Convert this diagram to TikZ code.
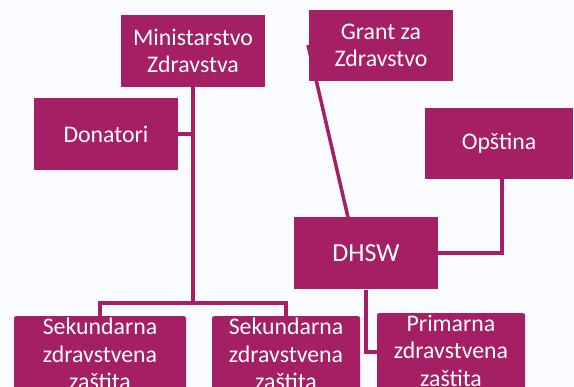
\documentclass[tikz,border=0pt]{standalone}
\usepackage{fontspec}
\setmainfont{Carlito}
\usepackage{xcolor}
\definecolor{plum}{HTML}{A41F63}
\definecolor{paper}{HTML}{FAFBFE}
\usetikzlibrary{positioning}
\tikzset{
    box/.style={
        rectangle, fill=plum, text=white,
        align=center, inner sep=0pt,
        minimum width=144pt, minimum height=72pt,
        font=\fontsize{23.8}{27.7}\selectfont
    },
    leaf/.style={
        box, rounded corners=2pt,
        anchor=north, minimum height=0pt,
        inner ysep=1.6pt
    },
    conn/.style={
        draw=plum, line width=4pt
    },
}

\begin{document}
\begin{tikzpicture}[x=1pt, y=-1pt]
    \useasboundingbox (0,0) rectangle (574,387);
    \clip (0,0) rectangle (574,387);
    \fill[paper] (0,0) rectangle (574,387);

    % Draw ministry branch
    \node[box] (min) at (193,51) {Ministarstvo\\Zdravstva};
    \node[box] (don) at (106,134) {Donatori};
    \node[leaf, minimum width=172pt] (sek1) at (100,316) {Sekundarna\\zdravstvena\\zaštita};
    \node[leaf, minimum width=148pt] (sek2) at (286,316) {Sekundarna\\zdravstvena\\zaštita};
    \coordinate (bus) at (193,303);

    \draw[conn] (min) -- (bus);
    \draw[conn] (don) -- (don -| min);
    \draw[conn] (sek1) |- (bus) -| (sek2);

    % Draw DHSW branch
    \node[box, font=\fontsize{26}{31}\selectfont] (dhsw) at (366,253.5) {DHSW};
    \node[box, minimum width=148pt, minimum height=71pt] (ops) at (499,143.5) {Opština};
    \node[leaf, minimum width=148pt] (prim) at (451,313) {Primarna\\zdravstvena\\zaštita};
    \coordinate (granttip) at (308,45);
    \coordinate (primin) at (377,352);

    \draw[conn, line width=3.5pt] ([xshift=-18pt]dhsw.north) -- (granttip);
    \node[box, minimum height=71pt] (grant) at (381,45.5) {Grant za\\Zdravstvo};

    \draw[conn] ([xshift=3pt]ops.south) |- (dhsw);
    \draw[conn] (dhsw) |- (primin);
\end{tikzpicture}
\end{document}
